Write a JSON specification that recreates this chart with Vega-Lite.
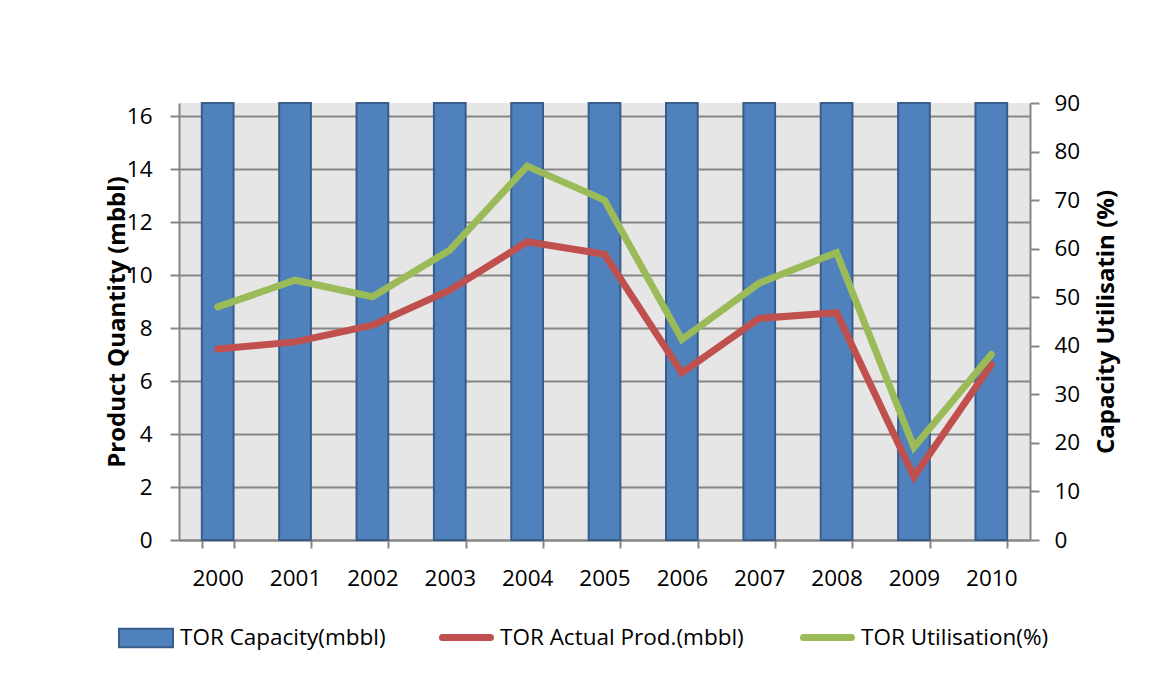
{
  "$schema": "https://vega.github.io/schema/vega-lite/v6.json",
  "width": 851,
  "height": 437,
  "autosize": {"type": "none"},
  "padding": {"left": 179, "top": 103, "right": 120, "bottom": 141},
  "background": "white",
  "config": {
    "font": "Open Sans",
    "view": {"fill": "#e6e6e6", "stroke": null},
    "axis": {
      "domainColor": "#868686", "domainWidth": 2,
      "tickColor": "#868686", "tickWidth": 2,
      "gridColor": "#868686", "gridWidth": 2,
      "labelFont": "Open Sans", "labelFontSize": 22.5, "labelColor": "#000000",
      "titleFont": "Open Sans", "titleFontSize": 24, "titleFontWeight": "bold", "titleColor": "#000000"
    },
    "legend": {
      "labelFont": "Open Sans", "labelFontSize": 22.5, "labelColor": "#000000",
      "padding": 0, "labelOffset": 6, "orient": "none", "labelLimit": 500
    }
  },
  "data": {
    "values": [
      {"year": "2000", "cap": 16.5, "prod": 7.21, "util": 48.0},
      {"year": "2001", "cap": 16.5, "prod": 7.48, "util": 53.5},
      {"year": "2002", "cap": 16.5, "prod": 8.11, "util": 50.1},
      {"year": "2003", "cap": 16.5, "prod": 9.43, "util": 59.7},
      {"year": "2004", "cap": 16.5, "prod": 11.26, "util": 77.0},
      {"year": "2005", "cap": 16.5, "prod": 10.79, "util": 70.0},
      {"year": "2006", "cap": 16.5, "prod": 6.31, "util": 41.3},
      {"year": "2007", "cap": 16.5, "prod": 8.37, "util": 52.9},
      {"year": "2008", "cap": 16.5, "prod": 8.58, "util": 59.2},
      {"year": "2009", "cap": 16.5, "prod": 2.39, "util": 19.1},
      {"year": "2010", "cap": 16.5, "prod": 6.63, "util": 38.2}
    ]
  },
  "encoding": {
    "x": {
      "field": "year", "type": "ordinal",
      "scale": {"paddingInner": 0.59, "paddingOuter": 0.295},
      "axis": {"title": null, "labelAngle": 0, "grid": false, "tickBand": "extent", "tickSize": 8, "labelPadding": 19}
    }
  },
  "layer": [
    {
      "layer": [
        {
          "mark": {"type": "bar", "stroke": "#385d8a", "strokeWidth": 2},
          "encoding": {
            "y": {
              "field": "cap", "type": "quantitative",
              "scale": {"domain": [0, 16.5], "nice": false, "zero": true},
              "axis": {
                "title": "Product Quantity (mbbl)", "values": [0, 2, 4, 6, 8, 10, 12, 14, 16],
                "grid": true, "tickSize": 9, "labelPadding": 18,
                "titleX": -61.5, "titleY": 218.5, "titleAngle": 270, "titleAlign": "center", "titleBaseline": "middle"
              }
            },
            "fill": {
              "datum": "TOR Capacity(mbbl)",
              "scale": {"range": ["#4f81bd"]},
              "legend": {
                "title": null, "legendX": -61, "legendY": 507,
                "symbolType": "M-1,-0.34H1V0.34H-1Z", "symbolSize": 2916,
                "symbolStrokeColor": "#385d8a", "symbolStrokeWidth": 2, "symbolOpacity": 1
              }
            }
          }
        },
        {
          "mark": {"type": "line", "strokeWidth": 7, "strokeCap": "round"},
          "encoding": {
            "y": {"field": "prod", "type": "quantitative"},
            "stroke": {
              "datum": "TOR Actual Prod.(mbbl)",
              "scale": {"range": ["#c0504d"]},
              "legend": {
                "title": null, "legendX": 260, "legendY": 507,
                "symbolType": "stroke", "symbolSize": 2304, "symbolStrokeWidth": 7, "labelOffset": 6,
                "encode": {"symbols": {"update": {"strokeCap": {"value": "round"}}}}
              }
            }
          }
        }
      ]
    },
    {
      "mark": {"type": "line", "strokeWidth": 7, "strokeCap": "round"},
      "encoding": {
        "y": {
          "field": "util", "type": "quantitative",
          "scale": {"domain": [0, 90], "nice": false},
          "axis": {
            "orient": "right", "title": "Capacity Utilisatin (%)",
            "values": [0, 10, 20, 30, 40, 50, 60, 70, 80, 90],
            "grid": false, "tickSize": 9, "labelPadding": 15,
            "titleX": 76, "titleY": 218.5, "titleAngle": 270, "titleAlign": "center", "titleBaseline": "middle"
          }
        },
        "stroke": {
          "datum": "TOR Utilisation(%)",
          "scale": {"range": ["#9bbb59"]},
          "legend": {
            "title": null, "legendX": 621, "legendY": 507,
            "symbolType": "stroke", "symbolSize": 2304, "symbolStrokeWidth": 7, "labelOffset": 6,
            "encode": {"symbols": {"update": {"strokeCap": {"value": "round"}}}}
          }
        }
      }
    }
  ],
  "resolve": {
    "scale": {"y": "independent", "stroke": "independent"},
    "legend": {"stroke": "independent"}
  }
}
